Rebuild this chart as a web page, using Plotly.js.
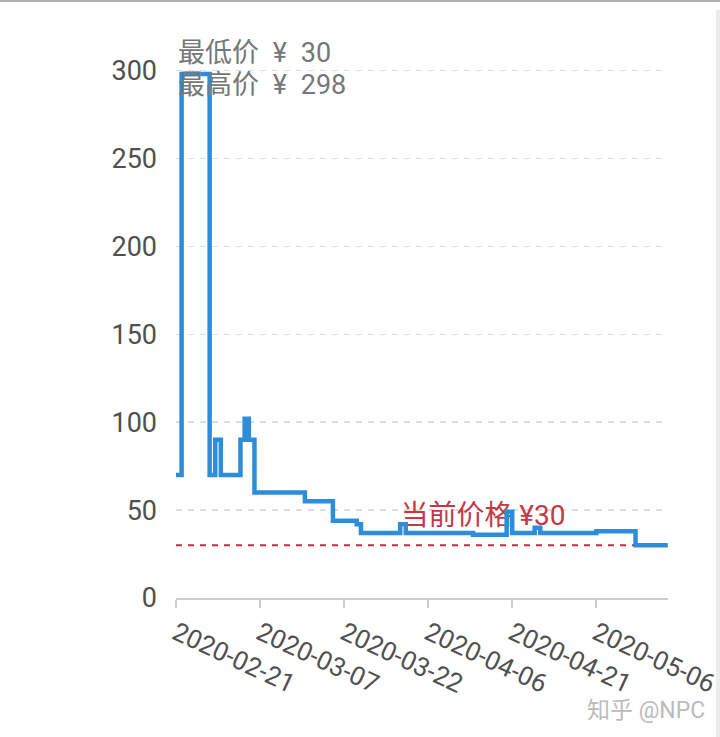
<!DOCTYPE html>
<html>
<head>
<meta charset="utf-8">
<script src="https://cdn.plot.ly/plotly-3.0.1.min.js"></script>
<style>
  html, body { margin: 0; padding: 0; background: #ffffff; }
  #chart { width: 720px; height: 737px; position: absolute; left: 0; top: 0; }
  #topbar { position: absolute; left: 0; top: 0; width: 720px; height: 2px; background: #b0b0b0; }
  #rightbar { position: absolute; left: 716px; top: 10px; width: 4px; height: 727px; background: #ececec; }
</style>
</head>
<body>
<div id="chart"></div>
<div id="topbar"></div>
<div id="rightbar"></div>
<script>
// ---- data ----
const dates = ['2020-02-21','2020-02-22','2020-02-27','2020-02-28','2020-02-29',
  '2020-03-03 12:00','2020-03-04 06:00','2020-03-05','2020-03-06','2020-03-15',
  '2020-03-20','2020-03-24 06:00','2020-03-25','2020-04-01','2020-04-02',
  '2020-04-14','2020-04-20','2020-04-21','2020-04-25','2020-04-26',
  '2020-05-06','2020-05-13','2020-05-18 18:00'];
const prices = [70,298,70,90,70,90,102,90,60,55,44,42,37,42,37,36,49,37,40,37,38,30,30];
const currentPrice = 30;
const lowPrice = 30;
const highPrice = 298;
const xTickVals = ['2020-02-21','2020-03-07','2020-03-22','2020-04-06','2020-04-21','2020-05-06'];
const xTickText = ['2020-02-21','2020-03-07','2020-03-22','2020-04-06','2020-04-21','2020-05-06'];
const yTickVals = [0,50,100,150,200,250,300];
const xRange = ['2020-02-21','2020-05-18 19:00'];

const FONT = "Roboto, 'Noto Sans CJK SC', sans-serif";

const traces = [
  {
    x: [xRange[0], xRange[1]],
    y: [currentPrice, currentPrice],
    mode: 'lines',
    line: { color: '#b8323f', width: 2, dash: '6px,6px' },
    hoverinfo: 'skip',
    showlegend: false
  },
  {
    x: ['2020-04-01 01:00'],
    y: [45.5],
    mode: 'text',
    text: ['当前价格 ¥' + currentPrice],
    textposition: 'middle right',
    textfont: { family: FONT, size: 28, color: '#c23a46' },
    hoverinfo: 'skip',
    showlegend: false,
    cliponaxis: false
  },
  {
    x: dates,
    y: prices,
    mode: 'lines',
    line: { color: '#2e8ddb', width: 4.5, shape: 'hv' },
    showlegend: false
  }
];

const layout = {
  width: 720,
  height: 737,
  margin: { l: 176, r: 52, t: 53, b: 139 },
  paper_bgcolor: '#ffffff',
  plot_bgcolor: '#ffffff',
  font: { family: FONT, color: '#555555' },
  showlegend: false,
  xaxis: {
    type: 'date',
    range: xRange,
    tickvals: xTickVals,
    ticktext: xTickText,
    tickangle: 25,
    tickfont: { family: FONT, size: 26, color: '#505050' },
    showgrid: false,
    zeroline: false,
    showline: true,
    linecolor: '#cccccc',
    linewidth: 2,
    ticks: 'outside',
    ticklen: 8,
    tickwidth: 2,
    tickcolor: '#cccccc',
    fixedrange: true
  },
  yaxis: {
    range: [0, 310],
    tickvals: yTickVals,
    tickfont: { family: FONT, size: 27, color: '#505050' },
    showgrid: true,
    gridcolor: '#dddddd',
    gridwidth: 1.5,
    griddash: '6px,6px',
    zeroline: false,
    showline: false,
    ticks: '',
    ticklabelstandoff: 18,
    fixedrange: true
  },
  annotations: [
    {
      xref: 'paper', yref: 'paper', x: 0.0, y: 1.0,
      xanchor: 'left', yanchor: 'middle', showarrow: false,
      text: '最低价\u2002¥\u2002' + lowPrice,
      font: { family: FONT, size: 27, color: '#777777' }
    },
    {
      xref: 'paper', yref: 'paper', x: 0.0, y: 0.941,
      xanchor: 'left', yanchor: 'middle', showarrow: false,
      text: '最高价\u2002¥\u2002' + highPrice,
      font: { family: FONT, size: 27, color: '#777777' }
    },
    {
      xref: 'paper', yref: 'paper', x: 0.832, y: -0.206,
      xanchor: 'left', yanchor: 'middle', showarrow: false,
      text: '知乎 @NPC',
      font: { family: FONT, size: 23, color: '#bbbbbb' }
    }
  ]
};

Plotly.newPlot('chart', traces, layout, { staticPlot: true, displayModeBar: false });
</script>
</body>
</html>
